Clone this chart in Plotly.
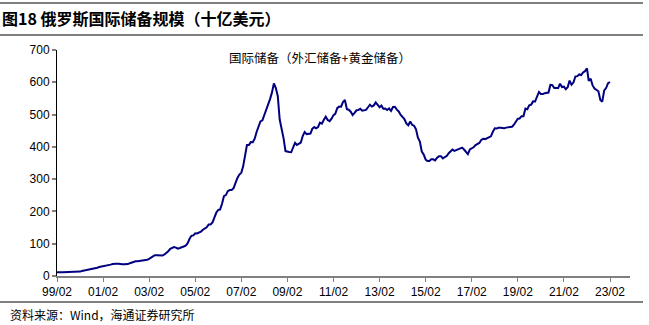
import plotly.graph_objects as go
import pandas as pd

# Monthly international reserves of Russia (billion USD)
reserves_1999 = [11.9, 11.0, 11.3, 11.6, 12.0, 12.0, 11.2, 10.8, 11.4, 12.6, 12.5]
reserves_2000 = [13.3, 13.7, 15.5, 16.6, 17.6, 19.8, 21.8, 22.2, 23.6, 24.2, 25.6, 28.0]
reserves_2001 = [29.0, 29.4, 30.3, 32.0, 33.9, 35.2, 37.2, 38.8, 38.3, 37.7, 36.0, 36.6]
reserves_2002 = [36.5, 36.4, 36.8, 39.7, 42.0, 43.8, 45.6, 45.8, 46.6, 46.1, 47.1, 47.8]
reserves_2003 = [50.4, 52.9, 55.7, 61.4, 64.3, 64.4, 63.3, 62.8, 63.3, 66.8, 71.4, 76.9]
reserves_2004 = [84.1, 87.0, 89.6, 88.1, 84.5, 86.6, 90.1, 91.3, 94.0, 101.0, 114.7, 124.5]
reserves_2005 = [125.6, 132.3, 131.6, 134.6, 137.1, 143.4, 148.0, 150.8, 159.5, 159.6, 166.0, 182.2]
reserves_2006 = [196.6, 205.0, 205.9, 223.8, 247.3, 250.6, 262.9, 266.3, 266.2, 272.3, 289.9, 303.7]
reserves_2007 = [314.3, 320.2, 338.8, 369.1, 405.8, 405.8, 414.8, 414.4, 425.3, 446.0, 464.4, 478.8]
reserves_2008 = [482.2, 497.7, 512.6, 532.3, 548.0, 568.7, 596.6, 582.2, 556.8, 484.6, 455.7, 427.1]
reserves_2009 = [386.9, 384.1, 383.9, 383.2, 400.2, 412.6, 405.9, 409.5, 413.4, 433.6, 446.2, 439.5]
reserves_2010 = [440.0, 441.2, 455.8, 461.1, 457.2, 461.2, 475.0, 471.8, 484.1, 493.5, 482.9, 479.4]
reserves_2011 = [487.4, 498.3, 502.4, 519.8, 524.6, 524.5, 538.9, 545.0, 516.8, 515.0, 508.8, 498.6]
reserves_2012 = [505.4, 513.3, 514.3, 518.0, 511.9, 514.1, 514.6, 522.7, 530.7, 524.7, 528.4, 537.6]
reserves_2013 = [528.9, 522.8, 527.7, 518.2, 518.4, 513.9, 518.7, 511.2, 523.6, 524.3, 515.4, 509.6]
reserves_2014 = [498.9, 493.3, 486.1, 472.3, 466.8, 478.3, 468.4, 465.2, 454.2, 428.6, 416.2, 385.5]
reserves_2015 = [376.2, 360.2, 356.4, 356.0, 361.6, 361.4, 358.0, 366.3, 371.1, 371.1, 364.0, 368.4]
reserves_2016 = [371.6, 380.5, 387.0, 391.5, 387.4, 390.5, 393.4, 395.3, 397.5, 391.7, 385.2, 377.7]
reserves_2017 = [391.8, 395.0, 398.6, 405.7, 408.7, 412.2, 421.4, 424.8, 424.0, 426.8, 427.5, 432.7]
reserves_2018 = [446.6, 457.5, 456.7, 459.3, 458.9, 458.1, 457.9, 459.6, 460.6, 460.8, 462.2, 468.5]
reserves_2019 = [480.0, 487.1, 487.8, 494.9, 494.7, 518.4, 516.6, 528.4, 530.9, 540.8, 540.4, 554.4]
reserves_2020 = [570.0, 563.6, 563.5, 566.0, 566.4, 568.3, 591.8, 591.2, 582.3, 582.1, 582.0, 595.8]
reserves_2021 = [585.3, 586.4, 578.4, 584.8, 605.2, 592.4, 599.1, 617.6, 618.9, 624.2, 622.5, 630.6]
reserves_2022 = [634.5, 643.2, 604.4, 611.1, 590.2, 580.6, 575.2, 572.2, 545.0, 540.0, 575.0, 582.0]
reserves_2023 = [597.0, 601.0]

values = (reserves_1999 + reserves_2000 + reserves_2001 + reserves_2002 + reserves_2003
          + reserves_2004 + reserves_2005 + reserves_2006 + reserves_2007 + reserves_2008
          + reserves_2009 + reserves_2010 + reserves_2011 + reserves_2012 + reserves_2013
          + reserves_2014 + reserves_2015 + reserves_2016 + reserves_2017 + reserves_2018
          + reserves_2019 + reserves_2020 + reserves_2021 + reserves_2022 + reserves_2023)
dates = pd.date_range("1999-02-01", periods=len(values), freq="MS")

tick_vals = pd.date_range("1999-02-01", "2023-02-01", freq="24MS")
tick_text = [d.strftime("%y/%m") for d in tick_vals]

title_text = "图18 俄罗斯国际储备规模（十亿美元）"
series_name = "国际储备（外汇储备+黄金储备）"
source_text = "资料来源：Wind，海通证券研究所"

fig = go.Figure()
fig.add_trace(go.Scatter(x=dates, y=values, mode="lines", name=series_name,
                         line=dict(color="#000080", width=2)))

fig.update_layout(
    width=649, height=325,
    margin=dict(l=57, r=19, t=50, b=49),
    paper_bgcolor="white", plot_bgcolor="white",
    showlegend=False,
    font=dict(family="Liberation Sans, Arial", size=12, color="black"),
)
fig.update_xaxes(
    type="date", range=["1999-02-01", "2023-12-15"],
    tickvals=tick_vals, ticktext=tick_text,
    showline=True, linecolor="#808080", linewidth=2,
    ticks="outside", ticklen=4, tickcolor="#808080", tickwidth=1,
    showgrid=False, zeroline=False,
    tickfont=dict(family="Liberation Sans, Arial", size=12, color="black"),
)
fig.update_yaxes(
    range=[0, 700], tickvals=[0, 100, 200, 300, 400, 500, 600, 700],
    showline=True, linecolor="black", linewidth=1,
    ticks="outside", ticklen=4, tickcolor="#808080", tickwidth=2,
    showgrid=False, zeroline=False,
    tickfont=dict(family="Liberation Sans, Arial", size=12, color="black"),
)

# Title, legend-like label, and source
fig.add_annotation(xref="paper", yref="paper", x=-57/573, y=1+32/226, xanchor="left", yanchor="middle",
                   text="<b>" + title_text + "</b>", showarrow=False,
                   font=dict(family="Noto Sans CJK SC", size=16, color="black"))
fig.add_annotation(xref="paper", yref="paper", x=(227-57)/573, y=(276-57)/226, xanchor="left", yanchor="middle",
                   text=series_name, showarrow=False,
                   font=dict(family="Noto Sans CJK SC", size=12.5, color="black"))
fig.add_annotation(xref="paper", yref="paper", x=-49/573, y=-(314-276)/226, xanchor="left", yanchor="middle",
                   text=source_text, showarrow=False,
                   font=dict(family="Noto Sans CJK SC", size=12, color="black"))

# Horizontal rules
fig.add_shape(type="line", xref="paper", yref="paper", x0=-57/573, x1=(643-57)/573,
              y0=(276-3)/226, y1=(276-3)/226, line=dict(color="black", width=1))
fig.add_shape(type="line", xref="paper", yref="paper", x0=-57/573, x1=(643-57)/573,
              y0=(276-35)/226, y1=(276-35)/226, line=dict(color="black", width=1))
fig.add_shape(type="line", xref="paper", yref="paper", x0=-57/573, x1=(643-57)/573,
              y0=(276-302)/226, y1=(276-302)/226, line=dict(color="black", width=1))

fig.write_html("out.html")
